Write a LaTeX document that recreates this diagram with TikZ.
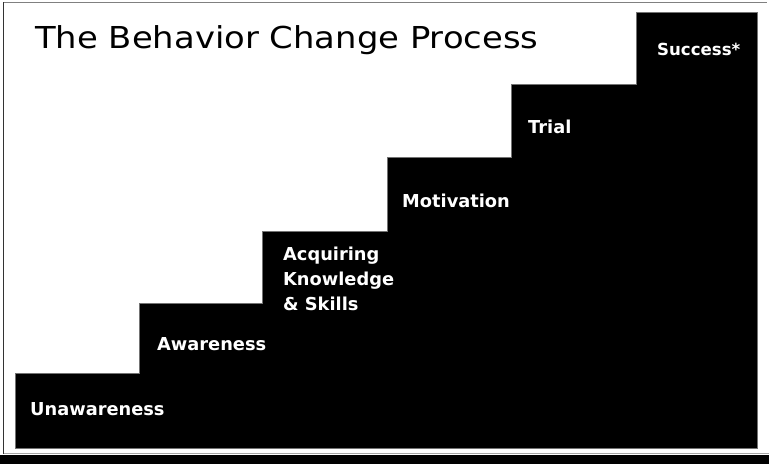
\documentclass[tikz,border=0pt]{standalone}
\usepackage{fontspec}
\setmainfont{DejaVu Sans}
\newfontfamily\titlefont[FakeStretch=1.12]{DejaVu Sans}
\begin{document}
\begin{tikzpicture}[x=1pt,y=-1pt,
  steplabel/.style={text=white,inner sep=0pt,anchor=base west,align=left,
    font=\bfseries\fontsize{17.8}{25}\selectfont},
  stairs/.style={fill=black,draw=black!55,line width=0.6pt}]
\useasboundingbox (0,0) rectangle (769,464);
\fill[white] (0,0) rectangle (769,464);
% frame
\draw[black!50,line width=1.5pt] (3.5,2.7) -- (767,2.7);
\draw[black!80,line width=1.5pt] (3.5,2) -- (3.5,454);
\draw[black!35,line width=1pt] (3.5,453.5) -- (769,453.5);
\fill[black] (0,455) rectangle (769,464);
% staircase
\path[stairs] (15,448) -- (15,373) -- (139,373) -- (139,303) -- (262,303) -- (262,231)
  -- (387,231) -- (387,157) -- (511,157) -- (511,84) -- (636,84) -- (636,12)
  -- (757.5,12) -- (757.5,448) -- cycle;
% title
\node[anchor=base west,inner sep=0pt,font=\titlefont\fontsize{30.2}{36}\selectfont] (title) at (35,48.3) {The Behavior Change Process};
% labels
\node[steplabel] (s1) at (30,415) {Unawareness};
\node[steplabel] (s2) at (157,350) {Awareness};
\node[steplabel] (s3) at (283,310.7) {Acquiring\\Knowledge\\\& Skills};
\node[steplabel] (s4) at (402,207) {Motivation};
\node[steplabel] (s5) at (528,133) {Trial};
\node[steplabel,font=\bfseries\fontsize{16.6}{20}\selectfont] (s6) at (657,55) {Success*};
\end{tikzpicture}
\end{document}
